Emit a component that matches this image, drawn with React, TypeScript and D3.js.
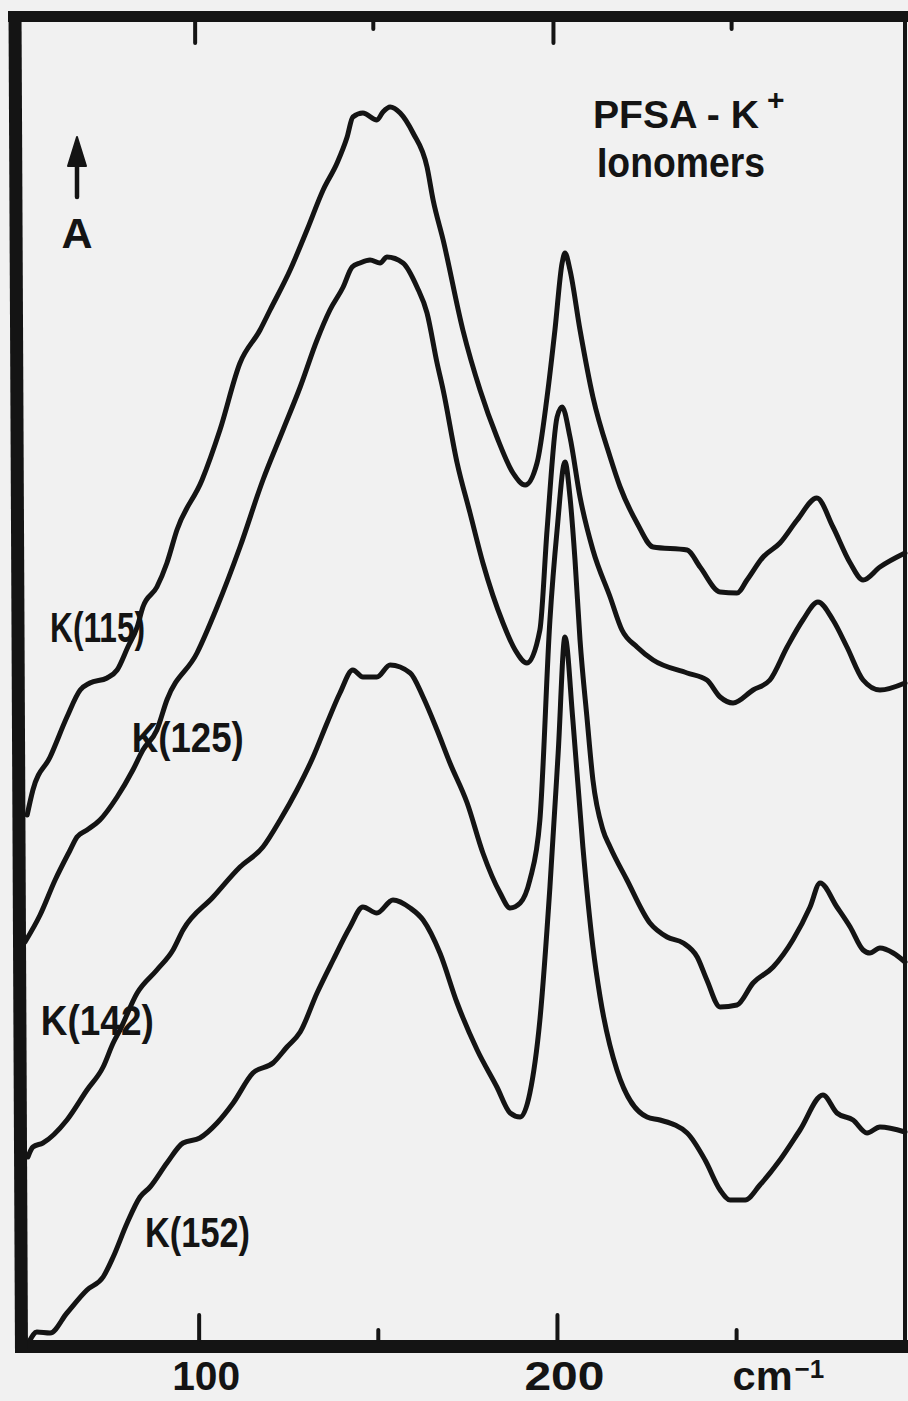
import React from "react";
import * as d3 from "d3";

// Wavenumber (cm-1) vs absorbance (arbitrary, offset traces)
const k115: [number, number][] = [
  [52.0, 5.32], [53.6, 5.57], [58.4, 5.9], [63.1, 6.3], [66.8, 6.57], [69.5, 6.64], [74.3, 6.69], [77.1, 6.77],
  [80.1, 7.0], [82.7, 7.2], [84.3, 7.4], [88.2, 7.6], [91.0, 7.84], [93.8, 8.17], [100.8, 8.67], [105.8, 9.17],
  [111.4, 9.84], [117.0, 10.17], [119.8, 10.37], [125.4, 10.77], [130.1, 11.17], [134.6, 11.57], [138.5, 11.84],
  [141.3, 12.1], [142.9, 12.3], [145.7, 12.34], [149.6, 12.27], [151.3, 12.35], [153.3, 12.4], [156.1, 12.34],
  [159.7, 12.14], [163.6, 11.8], [165.3, 11.47], [168.1, 11.07], [173.6, 10.17], [178.4, 9.57], [183.1, 9.1],
  [187.6, 8.74], [191.0, 8.62], [194.3, 8.84], [197.1, 9.5], [199.3, 10.17], [201.3, 10.84], [202.1, 10.94],
  [203.5, 10.77], [206.3, 10.17], [209.9, 9.5], [214.7, 8.9], [217.5, 8.6], [222.2, 8.24], [226.7, 8.0],
  [236.2, 7.97], [239.8, 7.8], [245.4, 7.55], [250.1, 7.54], [252.9, 7.67], [257.4, 7.9], [262.1, 8.04],
  [266.9, 8.27], [272.4, 8.49], [276.9, 8.2], [281.7, 7.84], [285.3, 7.67], [290.0, 7.8], [297.0, 7.94],
];

const k125: [number, number][] = [
  [51.4, 4.05], [55.6, 4.32], [59.8, 4.67], [64.0, 4.97], [65.9, 5.1], [68.7, 5.17], [72.3, 5.27], [77.1, 5.5],
  [81.5, 5.77], [84.3, 5.97], [88.2, 6.17], [91.0, 6.47], [99.4, 6.94], [105.0, 7.4], [111.4, 8.0], [117.8, 8.67],
  [123.4, 9.17], [128.2, 9.6], [132.9, 10.07], [136.5, 10.37], [140.2, 10.6], [142.7, 10.8], [144.9, 10.84],
  [147.7, 10.87], [150.5, 10.84], [152.4, 10.9], [156.9, 10.84], [160.8, 10.6], [163.6, 10.34], [166.4, 9.84],
  [168.1, 9.57], [172.0, 8.84], [175.6, 8.34], [179.2, 7.84], [184.8, 7.24], [188.2, 6.97], [191.5, 6.84],
  [195.1, 7.17], [197.1, 8.17], [199.9, 9.3], [201.3, 9.4], [203.5, 9.1], [206.3, 8.5], [209.9, 7.97],
  [214.7, 7.5], [218.0, 7.17], [222.2, 7.0], [226.7, 6.87], [236.2, 6.74], [241.7, 6.67], [245.4, 6.5],
  [249.0, 6.44], [254.6, 6.57], [259.3, 6.67], [264.1, 7.0], [268.5, 7.27], [272.7, 7.45], [276.9, 7.27],
  [280.8, 7.0], [285.3, 6.67], [290.0, 6.57], [297.0, 6.64],
];

const k142: [number, number][] = [
  [52.2, 1.9], [53.6, 2.0], [56.4, 2.04], [63.1, 2.27], [68.7, 2.57], [73.2, 2.8], [76.0, 3.04], [77.9, 3.17],
  [82.7, 3.54], [88.2, 3.77], [92.7, 3.97], [95.5, 4.17], [103.9, 4.5], [111.4, 4.8], [117.8, 5.0], [122.6, 5.27],
  [127.3, 5.57], [131.8, 5.9], [135.7, 6.24], [139.3, 6.54], [142.9, 6.77], [145.7, 6.7], [149.6, 6.7],
  [153.3, 6.82], [158.9, 6.74], [162.5, 6.5], [166.4, 6.17], [170.0, 5.84], [174.8, 5.44], [179.2, 4.94],
  [184.0, 4.54], [186.8, 4.39], [189.6, 4.44], [192.3, 4.67], [195.1, 5.27], [197.9, 7.27], [199.9, 8.17],
  [202.1, 8.85], [203.5, 8.5], [204.9, 7.87], [206.3, 7.07], [208.3, 6.27], [209.9, 5.67], [212.7, 5.17],
  [214.7, 5.0], [219.4, 4.67], [225.8, 4.24], [230.6, 4.1], [235.1, 4.04], [239.0, 3.9], [241.7, 3.67],
  [245.4, 3.4], [250.1, 3.42], [254.6, 3.64], [260.2, 3.8], [265.7, 4.07], [270.5, 4.4], [273.3, 4.64],
  [278.0, 4.4], [281.7, 4.2], [285.3, 3.97], [287.2, 3.94], [290.0, 3.99], [293.7, 3.94], [297.0, 3.85],
];

const k152: [number, number][] = [
  [52.8, 0.07], [54.7, 0.15], [58.4, 0.14], [63.1, 0.34], [68.7, 0.57], [73.2, 0.7], [76.0, 0.9], [79.9, 1.24],
  [83.5, 1.5], [86.3, 1.6], [91.0, 1.84], [95.5, 2.04], [100.2, 2.09], [105.0, 2.24], [109.5, 2.44], [115.0, 2.74],
  [120.6, 2.84], [124.5, 3.0], [128.2, 3.15], [132.9, 3.54], [137.4, 3.87], [142.1, 4.2], [145.7, 4.4],
  [149.6, 4.34], [154.1, 4.47], [158.9, 4.39], [162.5, 4.27], [167.2, 3.94], [172.0, 3.44], [177.6, 2.97],
  [183.1, 2.6], [186.8, 2.34], [189.6, 2.3], [192.3, 2.54], [195.1, 3.27], [197.9, 4.6], [200.2, 5.94],
  [202.1, 7.1], [204.3, 6.27], [207.1, 5.0], [209.9, 4.0], [211.9, 3.5], [216.6, 2.77], [225.0, 2.3],
  [228.6, 2.27], [236.2, 2.14], [241.2, 1.87], [245.4, 1.57], [248.2, 1.47], [252.4, 1.47], [256.5, 1.62],
  [262.1, 1.87], [267.7, 2.17], [274.1, 2.52], [278.0, 2.34], [282.5, 2.27], [286.4, 2.14], [290.0, 2.2],
  [297.0, 2.15],
];

const seriesNames = ["K(115)", "K(125)", "K(142)", "K(152)"];
// label anchor (wavenumber, absorbance) for each series name
const labelAnchors: [number, number][] = [
  [58.4, 7.05], [81.2, 5.95], [55.8, 3.12], [84.9, 1.0],
];
const labelWidths = [95, 112, 113, 105];

const majorTicks = [100, 200];
const minorTicks = [150, 250];
const tickLabels = ["100", "200"];
const titleLines = ["PFSA - K", "Ionomers"];
const titleSup = "+";
const unitLabel = "cm";
const unitSup = "\u22121";
const yLabel = "A";

const W = 908;
const H = 1401;
const INK = "#141414";
const BG = "#f1f1f1";
const FONT = "'Liberation Sans', Arial, sans-serif";

export default function App() {
  const x = d3.scaleLinear().domain([50, 297]).range([20, 905]);
  const y = d3.scaleLinear().domain([0, 13.31]).range([1347, 16]);
  const line = d3
    .line<[number, number]>()
    .x((d) => x(d[0]))
    .y((d) => y(d[1]))
    .curve(d3.curveMonotoneX);
  const series = [k115, k125, k142, k152];

  const top = 16.5;
  const bottom = 1346.5;
  const inTop = top + 5.5;
  const inBottom = bottom - 6.5;

  return (
    <svg
      width={W}
      height={H}
      viewBox={`0 0 ${W} ${H}`}
      style={{ position: "absolute", left: 0, top: 0, display: "block" }}
    >
      <rect x={0} y={0} width={W} height={H} fill={BG} />

      {/* curves */}
      {series.map((s, i) => (
        <path
          key={i}
          d={line(s) || ""}
          fill="none"
          stroke={INK}
          strokeWidth={5}
          strokeLinejoin="round"
          strokeLinecap="round"
        />
      ))}

      {/* frame */}
      <line x1={8} y1={top} x2={908} y2={top} stroke={INK} strokeWidth={11} />
      <line x1={15} y1={bottom} x2={908} y2={bottom} stroke={INK} strokeWidth={13} />
      <line x1={905} y1={11} x2={905} y2={bottom} stroke={INK} strokeWidth={4} />
      <line x1={15} y1={11} x2={21.5} y2={1353} stroke={INK} strokeWidth={13} />

      {/* ticks */}
      {majorTicks.map((t) => (
        <g key={"M" + t}>
          <line x1={x(t)} y1={inBottom} x2={x(t)} y2={inBottom - 25} stroke={INK} strokeWidth={4} strokeLinecap="round" />
          <line x1={x(t) - 4} y1={inTop} x2={x(t) - 4} y2={inTop + 21} stroke={INK} strokeWidth={4} strokeLinecap="round" />
        </g>
      ))}
      {minorTicks.map((t) => (
        <g key={"m" + t}>
          <line x1={x(t)} y1={inBottom} x2={x(t)} y2={inBottom - 10} stroke={INK} strokeWidth={4} strokeLinecap="round" />
          <line x1={x(t) - 5} y1={inTop} x2={x(t) - 5} y2={inTop + 7} stroke={INK} strokeWidth={4} strokeLinecap="round" />
        </g>
      ))}

      {/* tick labels */}
      {majorTicks.map((t, i) => (
        <text
          key={"l" + t}
          x={x(t) + 7}
          y={1390}
          textAnchor="middle"
          fontFamily={FONT}
          fontWeight={700}
          fontSize={40}
          fill={INK}
          textLength={i === 0 ? 68 : 80}
          lengthAdjust="spacingAndGlyphs"
        >
          {tickLabels[i]}
        </text>
      ))}
      <text x={x(250) - 4} y={1390} fontFamily={FONT} fontWeight={700} fontSize={40} fill={INK}>
        <tspan textLength={60} lengthAdjust="spacingAndGlyphs">{unitLabel}</tspan>
        <tspan dx={2} dy={-12} fontSize={26}>{unitSup}</tspan>
      </text>

      {/* title */}
      <text x={593} y={128} fontFamily={FONT} fontWeight={700} fontSize={39} fill={INK}>
        <tspan textLength={166} lengthAdjust="spacingAndGlyphs">{titleLines[0]}</tspan>
        <tspan x={597} dy={49} fontSize={42} textLength={168} lengthAdjust="spacingAndGlyphs">{titleLines[1]}</tspan>
      </text>
      <text x={767} y={110} fontFamily={FONT} fontWeight={700} fontSize={30} fill={INK}>
        {titleSup}
      </text>

      {/* A arrow */}
      <line x1={77} y1={197} x2={77} y2={160} stroke={INK} strokeWidth={4.5} strokeLinecap="round" />
      <path d="M77,137 L86,166 L68,166 Z" fill={INK} stroke={INK} strokeWidth={2} strokeLinejoin="round" />
      <text x={77} y={248} textAnchor="middle" fontFamily={FONT} fontWeight={700} fontSize={43} fill={INK}>
        {yLabel}
      </text>

      {/* series labels */}
      {seriesNames.map((n, i) => (
        <text
          key={n}
          x={x(labelAnchors[i][0])}
          y={y(labelAnchors[i][1])}
          fontFamily={FONT}
          fontWeight={700}
          fontSize={42}
          fill={INK}
          textLength={labelWidths[i]}
          lengthAdjust="spacingAndGlyphs"
        >
          {n}
        </text>
      ))}
    </svg>
  );
}
